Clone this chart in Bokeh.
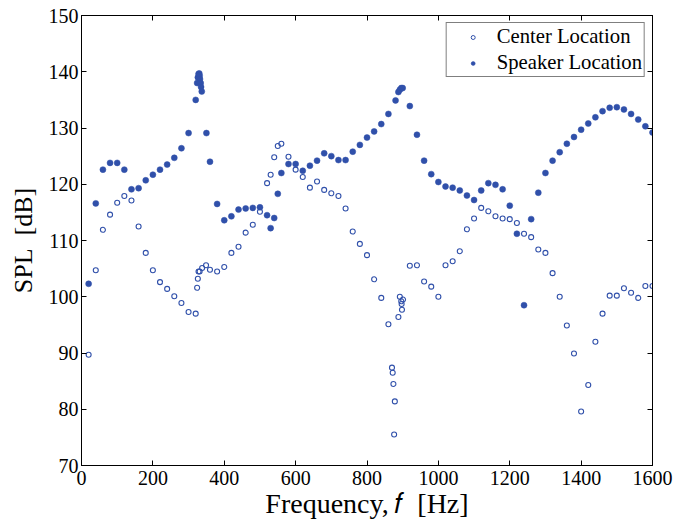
from bokeh.plotting import figure
from bokeh.models import LinearAxis, Legend, LegendItem, FixedTicker, Range1d
from bokeh.embed import file_html
from bokeh.resources import INLINE

center_freq = [20, 40, 60, 80, 100, 120, 140, 160, 180, 200, 220, 240, 260, 280, 300, 320,
               324, 326, 328, 331, 338, 349, 360, 380, 400, 420, 440, 460, 480, 500,
               520, 530, 540, 550, 560, 580, 600, 620, 640, 660, 680, 700, 720, 740, 760,
               780, 800, 820, 840, 860, 870, 872, 874, 876, 878, 888, 892, 896, 897, 898,
               901, 920, 940, 960, 980, 1000, 1020, 1040, 1060, 1080, 1100, 1120, 1140,
               1160, 1180, 1200, 1220, 1240, 1260, 1280, 1300, 1320, 1340, 1360, 1380,
               1400, 1420, 1440, 1460, 1480, 1500, 1520, 1540, 1560, 1580, 1600]
center_spl = [89.7, 104.7, 111.9, 114.6, 116.7, 117.9, 117.1, 112.5, 107.8, 104.7, 102.6,
              101.4, 100.1, 98.9, 97.3, 97.0, 101.6, 103.2, 104.5, 104.5, 105.1, 105.6,
              104.8, 104.5, 105.3, 107.8, 108.9, 111.4, 112.8, 115.1, 120.2, 121.7, 124.8,
              126.8, 127.2, 124.9, 122.6, 121.3, 119.4, 120.5, 119.0, 118.4, 117.9, 115.7,
              111.6, 109.4, 107.4, 103.1, 99.8, 95.1, 87.4, 86.5, 84.5, 75.5, 81.4, 96.4,
              100.0, 99.2, 98.7, 97.7, 99.5, 105.5, 105.6, 102.7, 101.8, 100.0, 105.6,
              106.3, 108.1, 112.0, 113.9, 115.8, 115.2, 114.3, 113.9, 113.8, 113.1, 111.2,
              110.6, 108.4, 107.8, 104.2, 100.0, 94.9, 89.9, 79.6, 84.3, 92.0, 97.0, 100.2,
              100.2, 101.5, 100.7, 99.8, 101.9, 101.9]

speaker_freq = [20, 40, 60, 80, 100, 120, 140, 160, 180, 200, 220, 240, 260, 280, 300, 320,
                324, 326, 328, 330, 331, 332, 334, 335, 337, 350, 360, 380, 400, 420, 440,
                460, 480, 500, 520, 530, 540, 550, 560, 580, 600, 620, 640, 660, 680, 700,
                720, 740, 760, 780, 800, 820, 840, 860, 880, 888, 892, 896, 900, 920, 940,
                960, 980, 1000, 1020, 1040, 1060, 1080, 1100, 1120, 1140, 1160, 1180, 1200,
                1220, 1240, 1260, 1280, 1300, 1320, 1340, 1360, 1380, 1400, 1420, 1440,
                1460, 1480, 1500, 1520, 1540, 1560, 1580, 1600]
speaker_spl = [102.3, 116.6, 122.6, 123.8, 123.8, 122.6, 119.1, 119.3, 120.7, 121.7, 122.6,
               123.5, 124.7, 126.4, 129.1, 135.0, 138.0, 139.0, 139.6, 139.7, 139.3, 138.7,
               138.0, 137.3, 136.5, 129.1, 124.0, 116.5, 113.6, 114.3, 115.5, 115.7, 115.8,
               115.9, 114.5, 112.2, 114.0, 118.3, 122.0, 123.6, 123.6, 122.4, 123.3, 124.2,
               125.5, 125.0, 124.3, 124.3, 125.8, 127.0, 128.3, 129.4, 130.7, 132.5, 134.9,
               136.4, 136.8, 137.1, 137.1, 133.9, 128.8, 124.2, 121.8, 120.4, 119.6, 119.4,
               118.9, 118.0, 117.2, 118.9, 120.2, 119.9, 119.1, 116.2, 111.2, 98.5, 113.8,
               118.5, 122.0, 124.2, 125.7, 127.2, 128.4, 129.7, 130.8, 131.9, 133.0, 133.6,
               133.7, 133.3, 132.5, 131.5, 130.3, 129.2]

x_ticks = [0, 200, 400, 600, 800, 1000, 1200, 1400, 1600]
y_ticks = [70, 80, 90, 100, 110, 120, 130, 140, 150]
x_label = "Frequency,\u2009𝑓\u2002[Hz]"
y_label = "SPL\u2002[dB]"
legend_labels = ["Center Location", "Speaker Location"]

BLUE = "#3050AA"
FONT = "Liberation Serif"

p = figure(width=677, height=523, output_backend="svg", toolbar_location=None,
           x_range=Range1d(0, 1600), y_range=Range1d(70, 150),
           min_border_left=81, min_border_right=25, min_border_top=15, min_border_bottom=58)
p.grid.visible = False
p.outline_line_color = "black"
p.outline_line_width = 1
p.background_fill_color = "white"
p.border_fill_color = "white"

r_c = p.scatter(center_freq, center_spl, marker="circle", size=5, fill_color=None,
                line_color=BLUE, line_width=1.1)
r_s = p.scatter(speaker_freq, speaker_spl, marker="circle", size=6, fill_color=BLUE,
                line_color=BLUE, line_width=0.5)
# smaller markers used only for the legend swatches (their single point lies outside the view)
l_c = p.scatter([-1000], [0], marker="circle", size=4, fill_color=None, line_color=BLUE,
                line_width=1)
l_s = p.scatter([-1000], [0], marker="circle", size=4.5, fill_color=BLUE, line_color=BLUE,
                line_width=0.5)

def style_axis(ax, labels=True):
    ax.axis_line_color = "black"
    ax.major_tick_in = 5
    ax.major_tick_out = 0
    ax.minor_tick_line_color = None
    ax.major_tick_line_color = "black"
    if labels:
        ax.major_label_text_font = FONT
        ax.major_label_text_font_size = "20px"
        ax.major_label_text_color = "black"
        ax.axis_label_text_font = FONT
        ax.axis_label_text_font_style = "normal"
        ax.axis_label_text_color = "black"
    else:
        ax.major_label_text_font_size = "0px"
        ax.major_label_text_color = None

p.xaxis.ticker = FixedTicker(ticks=x_ticks)
p.yaxis.ticker = FixedTicker(ticks=y_ticks)
p.xaxis.axis_label = x_label
p.yaxis.axis_label = y_label
style_axis(p.xaxis[0])
style_axis(p.yaxis[0])
p.xaxis.axis_label_text_font_size = "28px"
p.yaxis.axis_label_text_font_size = "26px"
p.xaxis.major_label_standoff = 5
p.xaxis.axis_label_standoff = 0
p.yaxis.major_label_standoff = 3
p.yaxis.axis_label_standoff = 8

top = LinearAxis(ticker=FixedTicker(ticks=x_ticks))
right = LinearAxis(ticker=FixedTicker(ticks=y_ticks))
style_axis(top, labels=False)
style_axis(right, labels=False)
p.add_layout(top, "above")
p.add_layout(right, "right")

legend = Legend(items=[LegendItem(label=legend_labels[0], renderers=[l_c]),
                       LegendItem(label=legend_labels[1], renderers=[l_s])],
                location="top_right")
legend.margin = 7
legend.padding = 2
legend.spacing = 3
legend.glyph_width = 48
legend.glyph_height = 10
legend.label_height = 22
legend.label_standoff = 0
legend.label_text_font = FONT
legend.label_text_font_size = "20.7px"
legend.label_text_color = "black"
legend.border_line_color = "black"
legend.border_line_width = 1
legend.background_fill_color = "white"
legend.background_fill_alpha = 1
p.add_layout(legend, "center")

open("out.html", "w").write(file_html(p, INLINE))
